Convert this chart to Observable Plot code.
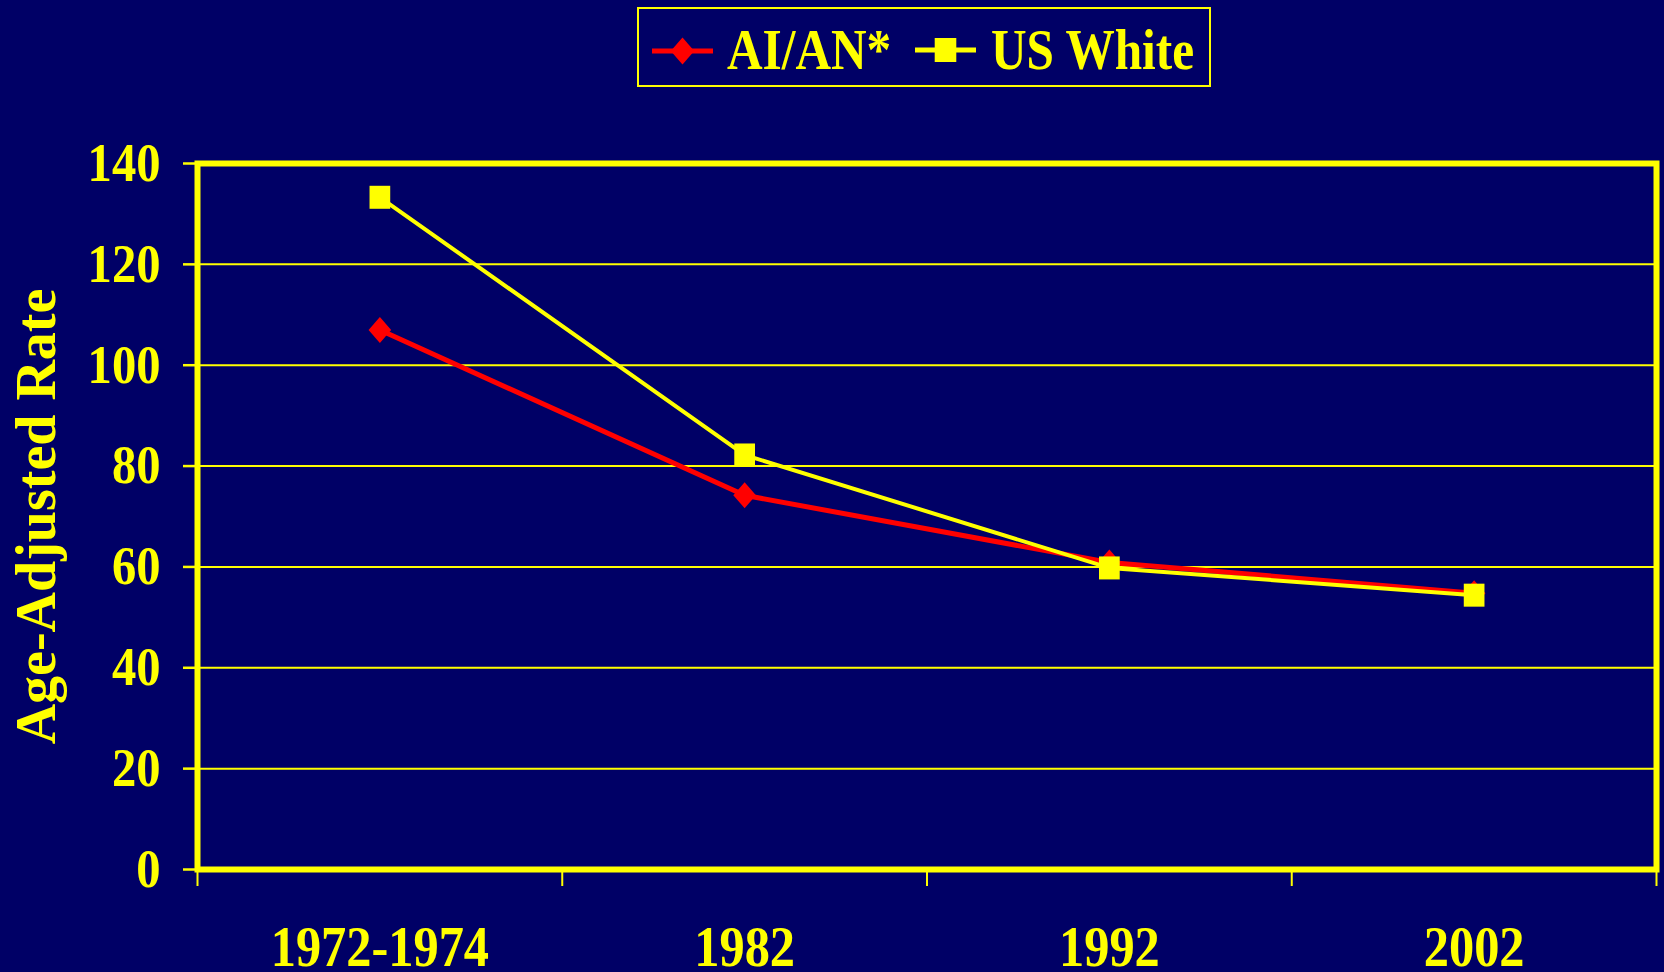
<!DOCTYPE html>
<html>
<head>
<meta charset="utf-8">
<script src="https://cdn.jsdelivr.net/npm/d3@7"></script>
<script src="https://cdn.jsdelivr.net/npm/@observablehq/plot@0.6"></script>
<style>
  html, body { margin: 0; padding: 0; background: #000066; }
  body { width: 1664px; height: 972px; overflow: hidden; }
  svg { display: block; overflow: visible; }
</style>
</head>
<body>
<div id="root"></div>
<script>
// Age-adjusted rates by period
const periods = ["1972-1974", "1982", "1992", "2002"];
const aianRates = [107.0, 74.2, 60.9, 54.8];
const usWhiteRates = [133.3, 82.2, 59.8, 54.4];
const seriesNames = ["AI/AN*", "US White"];
const yTicks = [0, 20, 40, 60, 80, 100, 120, 140];
const yLabel = "Age-Adjusted Rate";

const YELLOW = "#ffff00";
const RED = "#ff0000";
const FONT = '"Liberation Serif", "Times New Roman", serif';

// Marker shapes: a slightly tall diamond and a slightly tall square
const tallDiamond = {
  draw(ctx, size) {
    const r = Math.sqrt(size / Math.PI), w = r * 0.87;
    ctx.moveTo(0, -r); ctx.lineTo(w, 0); ctx.lineTo(0, r); ctx.lineTo(-w, 0); ctx.closePath();
  }
};
const tallSquare = {
  draw(ctx, size) {
    const r = Math.sqrt(size / Math.PI), w = r * 0.9;
    ctx.moveTo(-w, -r); ctx.lineTo(w, -r); ctx.lineTo(w, r); ctx.lineTo(-w, r); ctx.closePath();
  }
};

const aian = aianRates.map((v, i) => ({i, v}));
const usWhite = usWhiteRates.map((v, i) => ({i, v}));
const boundaries = d3.range(periods.length + 1).map(k => k - 0.5);

// Condense text horizontally around its anchor
function squeeze(el, sx) {
  const t = el.getAttribute("transform") || "";
  const x = +el.getAttribute("x") || 0;
  el.setAttribute("transform", `${t} translate(${x},0) scale(${sx},1) translate(${-x},0)`);
}

// Legend above the chart
const legend = d3.create("svg").attr("width", 1664).attr("height", 95);
legend.append("rect").attr("x", 638).attr("y", 8).attr("width", 572).attr("height", 78)
  .attr("fill", "none").attr("stroke", YELLOW).attr("stroke-width", 2);
const items = [
  {name: seriesNames[0], color: RED, symbol: tallDiamond, r: 13.5, x0: 652, cy: 51, tx: 727},
  {name: seriesNames[1], color: YELLOW, symbol: tallSquare, r: 12, x0: 915, cy: 50, tx: 991}
];
for (const it of items) {
  legend.append("line").attr("x1", it.x0).attr("x2", it.x0 + 61).attr("y1", it.cy).attr("y2", it.cy)
    .attr("stroke", it.color).attr("stroke-width", 5);
  legend.append("path").attr("transform", `translate(${it.x0 + 30.5},${it.cy})`)
    .attr("d", d3.symbol(it.symbol, it.r * it.r * Math.PI)()).attr("fill", it.color);
  const t = legend.append("text").attr("x", it.tx).attr("y", 69).text(it.name)
    .attr("fill", YELLOW).attr("font-family", FONT).attr("font-weight", "bold").attr("font-size", 56);
  squeeze(t.node(), 0.88);
}

const chart = Plot.plot({
  width: 1664,
  height: 877,
  marginLeft: 197,
  marginRight: 8,
  marginTop: 68,
  marginBottom: 103,
  style: {background: "transparent", color: YELLOW, fontFamily: FONT, fontWeight: "bold", fontSize: "54px", overflow: "visible"},
  x: {type: "linear", domain: [-0.5, periods.length - 0.5], axis: null},
  y: {domain: [0, 140], axis: null},
  marks: [
    Plot.ruleY(yTicks.slice(1, -1), {stroke: YELLOW, strokeWidth: 2}),
    Plot.frame({stroke: YELLOW, strokeWidth: 6}),
    Plot.axisY({ticks: yTicks, tickSize: 14, tickPadding: 23, strokeWidth: 2.5, fontSize: 54, label: null}),
    Plot.axisX({ticks: boundaries, tickSize: 17, tickFormat: () => "", strokeWidth: 2, label: null}),
    Plot.axisX({ticks: d3.range(periods.length), tickSize: 0, tickPadding: 57, tickFormat: i => periods[i], fontSize: 56, label: null}),
    Plot.text([yLabel], {frameAnchor: "left", textAnchor: "middle", dx: -160, rotate: -90, fontSize: 56, fill: YELLOW}),
    Plot.line(aian, {x: "i", y: "v", stroke: RED, strokeWidth: 5}),
    Plot.dot(aian, {x: "i", y: "v", symbol: tallDiamond, r: 13, fill: RED, stroke: "none"}),
    Plot.line(usWhite, {x: "i", y: "v", stroke: YELLOW, strokeWidth: 4}),
    Plot.dot(usWhite, {x: "i", y: "v", symbol: tallSquare, r: 11.5, fill: YELLOW, stroke: "none"})
  ]
});

d3.select(chart).selectAll('g[aria-label$="tick label"] text').each(function () { squeeze(this, 0.9); });

const root = document.getElementById("root");
root.appendChild(legend.node());
root.appendChild(chart);
</script>
</body>
</html>
